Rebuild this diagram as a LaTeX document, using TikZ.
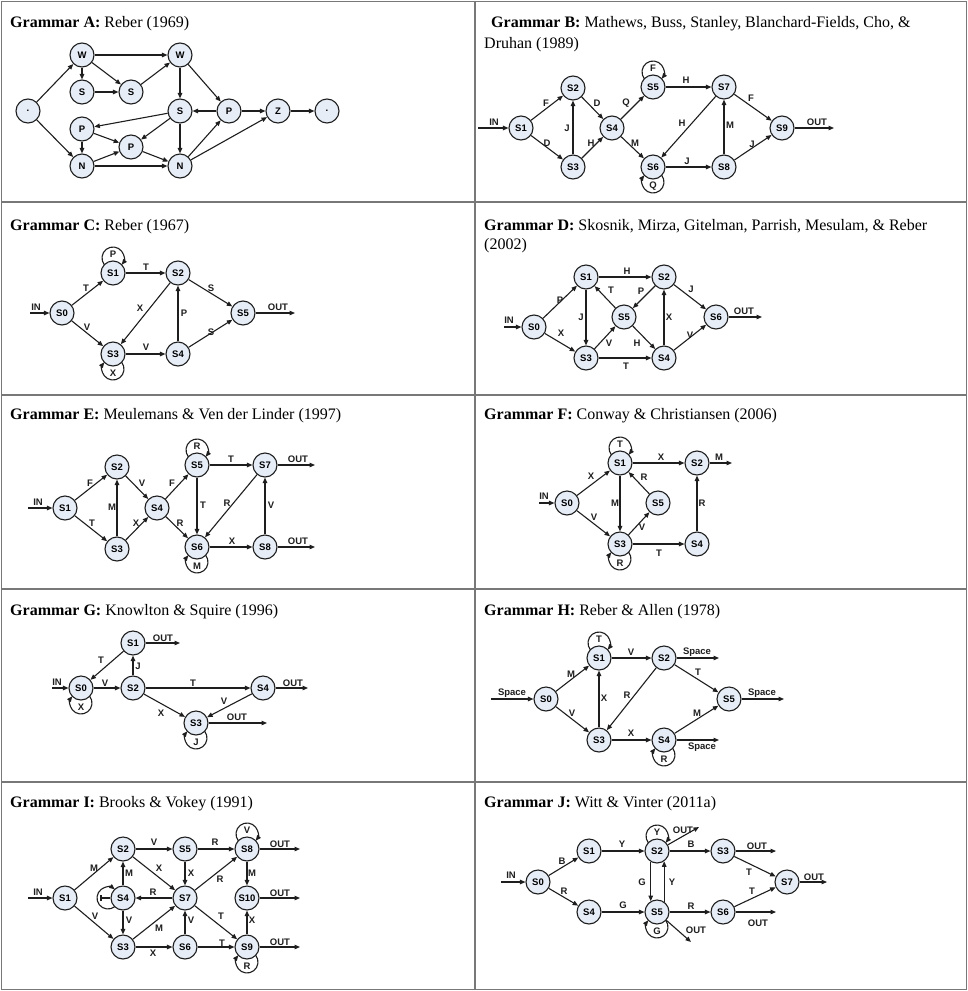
\documentclass[tikz,border=0pt]{standalone}
\usepackage{fontspec}
\setmainfont{Liberation Serif}
\newfontfamily\arialfam{Liberation Sans}
\usetikzlibrary{arrows.meta,calc}
\definecolor{nodefill}{RGB}{230,237,247}
\definecolor{ink}{RGB}{30,30,30}
\definecolor{gridc}{RGB}{120,120,120}
\newcommand\labfont{\arialfam\bfseries\fontsize{9.5}{11}\selectfont}
\newcommand\ttlfont{\fontsize{16}{19}\selectfont}
\tikzset{
 st/.style={circle, draw=ink, fill=nodefill, line width=1.1pt, minimum size=24pt, inner sep=0pt, font=\labfont},
 arr/.style={draw=ink, line width=1.1pt, -{Triangle[length=5.5pt,width=4.5pt]}},
 lb/.style={font=\labfont, inner sep=0pt, text=ink},
 ttlnode/.style={anchor=base west, inner sep=0pt, font=\ttlfont},
 gridline/.style={draw=gridc, line width=1.6pt},
}
\newcommand\looptop[2]{\draw[arr] ($(#1)+(-8.69,8.27)$) arc[start angle=217.8, end angle=-37.8, radius=11] node[lb] at ($(#1)+(0,19)$) {#2};}
\newcommand\loopbot[2]{\draw[arr] ($(#1)+(8.69,-8.27)$) arc[start angle=37.8, end angle=-217.8, radius=11] node[lb] at ($(#1)+(0,-19)$) {#2};}
\begin{document}
\begin{tikzpicture}[x=1pt,y=1pt]
\useasboundingbox (0,0) rectangle (968,-991);
% grid
\draw[gridline] (1.5,-1.5) rectangle (966.5,-989.5);
\draw[gridline] (475,-1.5) -- (475,-989.5);
\foreach \yy in {202,395,589,782} \draw[gridline] (1.5,-\yy) -- (966.5,-\yy);

% titles
\node[ttlnode] (tA) at (10,-27) {\textbf{Grammar A:} Reber (1969)};
\node[ttlnode] (tB) at (491,-27) {\textbf{Grammar B:} Mathews, Buss, Stanley, Blanchard-Fields, Cho, \&};
\node[ttlnode] (tB2) at (484,-48) {Druhan (1989)};
\node[ttlnode] (tC) at (10,-230) {\textbf{Grammar C:} Reber (1967)};
\node[ttlnode] (tD) at (484,-230) {\textbf{Grammar D:} Skosnik, Mirza, Gitelman, Parrish, Mesulam, \& Reber};
\node[ttlnode] (tD2) at (484,-249) {(2002)};
\node[ttlnode] (tE) at (10,-419) {\textbf{Grammar E:} Meulemans \& Ven der Linder (1997)};
\node[ttlnode] (tF) at (484,-419) {\textbf{Grammar F:} Conway \& Christiansen (2006)};
\node[ttlnode] (tG) at (10,-615.5) {\textbf{Grammar G:} Knowlton \& Squire (1996)};
\node[ttlnode] (tH) at (484,-615.5) {\textbf{Grammar H:} Reber \& Allen (1978)};
\node[ttlnode] (tI) at (10,-807) {\textbf{Grammar I:} Brooks \& Vokey (1991)};
\node[ttlnode] (tJ) at (484,-807) {\textbf{Grammar J:} Witt \& Vinter (2011a)};

% ---------------- Grammar A
\node[st] (aS0) at (28,-111) {.};
\node[st] (aW1) at (82,-55) {W};
\node[st] (aS1) at (82,-92) {S};
\node[st] (aS2) at (131,-92) {S};
\node[st] (aW2) at (180,-55) {W};
\node[st] (aS3) at (180,-111) {S};
\node[st] (aP1) at (229,-111) {P};
\node[st] (aZ) at (278,-111) {Z};
\node[st] (aE) at (327,-111) {.};
\node[st] (aP2) at (82,-129) {P};
\node[st] (aP3) at (131,-147) {P};
\node[st] (aN1) at (82,-166) {N};
\node[st] (aN2) at (180,-166) {N};
\foreach \p/\q in {aS0/aW1,aS0/aN1,aW1/aW2,aW1/aS1,aW1/aS2,aS1/aS2,aS2/aW2,aW2/aS3,aW2/aP1,aP1/aS3,aP1/aZ,aZ/aE,aS3/aP2,aS3/aP3,aS3/aN2,aP2/aN1,aP2/aP3,aN1/aP3,aN1/aN2,aP3/aN2,aN2/aP1,aN2/aZ}
  \draw[arr] (\p) -- (\q);

% ---------------- Grammar B
\node[st] (bS1) at (521,-128) {S1};
\node[st] (bS2) at (573,-88) {S2};
\node[st] (bS3) at (573,-167) {S3};
\node[st] (bS4) at (612,-128) {S4};
\node[st] (bS5) at (653,-87) {S5};
\node[st] (bS6) at (653,-167) {S6};
\node[st] (bS7) at (724,-87) {S7};
\node[st] (bS8) at (724,-167) {S8};
\node[st] (bS9) at (782,-128) {S9};
\coordinate (bIn) at (478,-128);
\coordinate (bOut) at (834,-128);
\draw[arr] (bIn) -- (bS1) node[lb] at (494,-122) {IN};
\draw[arr] (bS9) -- (bOut) node[lb] at (817,-122) {OUT};
\draw[arr] (bS1) -- (bS2) node[lb] at (546,-103) {F};
\draw[arr] (bS1) -- (bS3) node[lb] at (547,-143) {D};
\draw[arr] (bS3) -- (bS2) node[lb] at (567,-128) {J};
\draw[arr] (bS2) -- (bS4) node[lb] at (597,-103) {D};
\draw[arr] (bS3) -- (bS4) node[lb] at (591,-143) {H};
\draw[arr] (bS4) -- (bS5) node[lb] at (626,-103) {Q};
\draw[arr] (bS4) -- (bS6) node[lb] at (635,-143) {M};
\looptop{bS5}{F}
\loopbot{bS6}{Q}
\draw[arr] (bS5) -- (bS7) node[lb] at (686,-80) {H};
\draw[arr] (bS7) -- (bS6) node[lb] at (682,-123) {H};
\draw[arr] (bS6) -- (bS8) node[lb] at (687,-161) {J};
\draw[arr] (bS8) -- (bS7) node[lb] at (730,-125) {M};
\draw[arr] (bS7) -- (bS9) node[lb] at (751,-98) {F};
\draw[arr] (bS8) -- (bS9) node[lb] at (752,-144) {J};

% ---------------- Grammar C
\node[st] (cS0) at (62,-313) {S0};
\node[st] (cS1) at (113,-273) {S1};
\node[st] (cS2) at (178,-273) {S2};
\node[st] (cS3) at (113,-354) {S3};
\node[st] (cS4) at (178,-354) {S4};
\node[st] (cS5) at (243,-313) {S5};
\coordinate (cIn) at (30,-313);
\coordinate (cOut) at (295,-313);
\draw[arr] (cIn) -- (cS0) node[lb] at (36,-307) {IN};
\draw[arr] (cS5) -- (cOut) node[lb] at (278,-307) {OUT};
\draw[arr] (cS0) -- (cS1) node[lb] at (86,-288) {T};
\draw[arr] (cS0) -- (cS3) node[lb] at (87,-327) {V};
\looptop{cS1}{P}
\draw[arr] (cS1) -- (cS2) node[lb] at (146,-267) {T};
\draw[arr] (cS2) -- (cS3) node[lb] at (140,-308) {X};
\draw[arr] (cS4) -- (cS2) node[lb] at (184,-313) {P};
\draw[arr] (cS3) -- (cS4) node[lb] at (146,-347) {V};
\loopbot{cS3}{X}
\draw[arr] (cS2) -- (cS5) node[lb] at (211,-288) {S};
\draw[arr] (cS4) -- (cS5) node[lb] at (211,-332) {S};

% ---------------- Grammar D
\node[st] (dS0) at (534,-327) {S0};
\node[st] (dS1) at (586,-277) {S1};
\node[st] (dS2) at (664,-277) {S2};
\node[st] (dS3) at (586,-358) {S3};
\node[st] (dS4) at (664,-358) {S4};
\node[st] (dS5) at (624,-317) {S5};
\node[st] (dS6) at (716,-317) {S6};
\coordinate (dIn) at (504,-327);
\coordinate (dOut) at (762,-317);
\draw[arr] (dIn) -- (dS0) node[lb] at (509,-320) {IN};
\draw[arr] (dS6) -- (dOut) node[lb] at (744,-311) {OUT};
\draw[arr] (dS0) -- (dS1) node[lb] at (560,-300) {P};
\draw[arr] (dS0) -- (dS3) node[lb] at (561,-333) {X};
\draw[arr] (dS1) -- (dS2) node[lb] at (627,-271) {H};
\draw[arr] (dS1) -- (dS3) node[lb] at (581,-317) {J};
\draw[arr] (dS5) -- (dS1) node[lb] at (611,-290) {T};
\draw[arr] (dS2) -- (dS5) node[lb] at (641,-291) {P};
\draw[arr] (dS3) -- (dS5) node[lb] at (609,-343) {V};
\draw[arr] (dS5) -- (dS4) node[lb] at (637,-343) {H};
\draw[arr] (dS3) -- (dS4) node[lb] at (626,-366) {T};
\draw[arr] (dS4) -- (dS2) node[lb] at (669,-317) {X};
\draw[arr] (dS2) -- (dS6) node[lb] at (691,-289) {J};
\draw[arr] (dS4) -- (dS6) node[lb] at (690,-335) {V};

% ---------------- Grammar E
\node[st] (eS1) at (65,-508) {S1};
\node[st] (eS2) at (117,-467) {S2};
\node[st] (eS3) at (117,-549) {S3};
\node[st] (eS4) at (157,-508) {S4};
\node[st] (eS5) at (197,-465) {S5};
\node[st] (eS6) at (197,-547) {S6};
\node[st] (eS7) at (265,-465) {S7};
\node[st] (eS8) at (265,-547) {S8};
\coordinate (eIn) at (28,-508);
\coordinate (eOut1) at (315,-465);
\coordinate (eOut2) at (315,-547);
\draw[arr] (eIn) -- (eS1) node[lb] at (38,-502) {IN};
\draw[arr] (eS7) -- (eOut1) node[lb] at (298,-459) {OUT};
\draw[arr] (eS8) -- (eOut2) node[lb] at (298,-541) {OUT};
\draw[arr] (eS1) -- (eS2) node[lb] at (90,-483) {F};
\draw[arr] (eS1) -- (eS3) node[lb] at (92,-523) {T};
\draw[arr] (eS3) -- (eS2) node[lb] at (112,-507) {M};
\draw[arr] (eS2) -- (eS4) node[lb] at (142,-483) {V};
\draw[arr] (eS3) -- (eS4) node[lb] at (136,-523) {X};
\draw[arr] (eS4) -- (eS5) node[lb] at (172,-483) {F};
\draw[arr] (eS4) -- (eS6) node[lb] at (180,-523) {R};
\looptop{eS5}{R}
\draw[arr] (eS5) -- (eS7) node[lb] at (231,-459) {T};
\draw[arr] (eS5) -- (eS6) node[lb] at (203,-505) {T};
\draw[arr] (eS7) -- (eS6) node[lb] at (227,-503) {R};
\draw[arr] (eS6) -- (eS8) node[lb] at (232,-541) {X};
\draw[arr] (eS8) -- (eS7) node[lb] at (271,-505) {V};
\loopbot{eS6}{M}

% ---------------- Grammar F
\node[st] (fS0) at (567,-503) {S0};
\node[st] (fS1) at (620,-463) {S1};
\node[st] (fS2) at (697,-463) {S2};
\node[st] (fS3) at (620,-544) {S3};
\node[st] (fS4) at (697,-544) {S4};
\node[st] (fS5) at (658,-503) {S5};
\coordinate (fIn) at (539,-503);
\coordinate (fOut) at (732,-463);
\draw[arr] (fIn) -- (fS0) node[lb] at (544,-496) {IN};
\draw[arr] (fS2) -- (fOut) node[lb] at (719,-457) {M};
\draw[arr] (fS0) -- (fS1) node[lb] at (591,-476) {X};
\draw[arr] (fS0) -- (fS3) node[lb] at (594,-517) {V};
\looptop{fS1}{T}
\draw[arr] (fS1) -- (fS2) node[lb] at (661,-457) {X};
\draw[arr] (fS1) -- (fS3) node[lb] at (615,-503) {M};
\draw[arr] (fS5) -- (fS1) node[lb] at (644,-477) {R};
\draw[arr] (fS3) -- (fS5) node[lb] at (642,-527) {V};
\draw[arr] (fS3) -- (fS4) node[lb] at (659,-553) {T};
\draw[arr] (fS4) -- (fS2) node[lb] at (702,-503) {R};
\loopbot{fS3}{R}

% ---------------- Grammar G
\node[st] (gS0) at (81,-688) {S0};
\node[st] (gS1) at (133,-643) {S1};
\node[st] (gS2) at (133,-688) {S2};
\node[st] (gS3) at (196,-723) {S3};
\node[st] (gS4) at (263,-688) {S4};
\coordinate (gIn) at (52,-688);
\coordinate (gOut1) at (180,-643);
\coordinate (gOut4) at (308,-688);
\coordinate (gOut3) at (267,-723);
\draw[arr] (gIn) -- (gS0) node[lb] at (57,-682) {IN};
\draw[arr] (gS1) -- (gOut1) node[lb] at (163,-638) {OUT};
\draw[arr] (gS4) -- (gOut4) node[lb] at (293,-683) {OUT};
\draw[arr] (gS3) -- (gOut3) node[lb] at (237,-717) {OUT};
\draw[arr] (gS1) -- (gS0) node[lb] at (101,-660) {T};
\draw[arr] (gS2) -- (gS1) node[lb] at (138,-666) {J};
\draw[arr] (gS0) -- (gS2) node[lb] at (105,-683) {V};
\draw[arr] (gS2) -- (gS4) node[lb] at (193,-683) {T};
\draw[arr] (gS2) -- (gS3) node[lb] at (161,-713) {X};
\draw[arr] (gS4) -- (gS3) node[lb] at (224,-701) {V};
\loopbot{gS0}{X}
\loopbot{gS3}{J}

% ---------------- Grammar H
\node[st] (hS0) at (546,-699) {S0};
\node[st] (hS1) at (599,-658) {S1};
\node[st] (hS2) at (664,-658) {S2};
\node[st] (hS3) at (599,-740) {S3};
\node[st] (hS4) at (664,-740) {S4};
\node[st] (hS5) at (729,-699) {S5};
\coordinate (hIn) at (491,-699);
\coordinate (hOut2) at (719,-658);
\coordinate (hOut5) at (784,-699);
\coordinate (hOut4) at (719,-740);
\draw[arr] (hIn) -- (hS0) node[lb] at (512,-693) {Space};
\draw[arr] (hS2) -- (hOut2) node[lb] at (697,-652) {Space};
\draw[arr] (hS5) -- (hOut5) node[lb] at (762,-693) {Space};
\draw[arr] (hS4) -- (hOut4) node[lb] at (702,-747) {Space};
\draw[arr] (hS0) -- (hS1) node[lb] at (571,-674) {M};
\draw[arr] (hS0) -- (hS3) node[lb] at (572,-713) {V};
\looptop{hS1}{T}
\draw[arr] (hS1) -- (hS2) node[lb] at (631,-652) {V};
\draw[arr] (hS3) -- (hS1) node[lb] at (604,-698) {X};
\draw[arr] (hS2) -- (hS3) node[lb] at (627,-695) {R};
\draw[arr] (hS2) -- (hS5) node[lb] at (698,-672) {T};
\draw[arr] (hS3) -- (hS4) node[lb] at (631,-733) {X};
\draw[arr] (hS4) -- (hS5) node[lb] at (697,-713) {M};
\loopbot{hS4}{R}

% ---------------- Grammar I
\node[st] (iS1) at (65,-898) {S1};
\node[st] (iS2) at (123,-849) {S2};
\node[st] (iS3) at (123,-947) {S3};
\node[st] (iS4) at (123,-898) {S4};
\node[st] (iS5) at (185,-849) {S5};
\node[st] (iS6) at (185,-947) {S6};
\node[st] (iS7) at (185,-898) {S7};
\node[st] (iS8) at (247,-849) {S8};
\node[st] (iS9) at (247,-947) {S9};
\node[st] (iS10) at (247,-898) {S10};
\coordinate (iIn) at (28,-898);
\coordinate (iOut8) at (300,-849);
\coordinate (iOut10) at (300,-898);
\coordinate (iOut9) at (300,-947);
\draw[arr] (iIn) -- (iS1) node[lb] at (38,-892) {IN};
\draw[arr] (iS8) -- (iOut8) node[lb] at (280,-844) {OUT};
\draw[arr] (iS10) -- (iOut10) node[lb] at (280,-893) {OUT};
\draw[arr] (iS9) -- (iOut9) node[lb] at (280,-942) {OUT};
\draw[arr] (iS1) -- (iS2) node[lb] at (94,-868) {M};
\draw[arr] (iS1) -- (iS3) node[lb] at (95,-916) {V};
\draw[arr] (iS2) -- (iS5) node[lb] at (154,-842) {V};
\draw[arr] (iS2) -- (iS7) node[lb] at (159,-868) {X};
\draw[arr] (iS4) -- (iS2) node[lb] at (129,-873) {M};
\draw[arr] (iS4) -- (iS3) node[lb] at (129,-920) {V};
\draw[arr] (iS7) -- (iS4) node[lb] at (153,-892) {R};
\draw[arr] (iS5) -- (iS7) node[lb] at (191,-873) {X};
\draw[arr] (iS3) -- (iS7) node[lb] at (159,-928) {M};
\draw[arr] (iS6) -- (iS7) node[lb] at (191,-920) {V};
\draw[arr] (iS3) -- (iS6) node[lb] at (153,-953) {X};
\draw[arr] (iS5) -- (iS8) node[lb] at (215,-842) {R};
\draw[arr] (iS7) -- (iS8) node[lb] at (220,-879) {R};
\draw[arr] (iS7) -- (iS9) node[lb] at (221,-916) {T};
\draw[arr] (iS6) -- (iS9) node[lb] at (222,-943) {T};
\draw[arr] (iS8) -- (iS10) node[lb] at (252,-873) {M};
\draw[arr] (iS9) -- (iS10) node[lb] at (252,-920) {X};
\looptop{iS8}{V}
\loopbot{iS9}{R}
\draw[arr] ($(iS4)+(-8.27,-8.69)$) arc[start angle=-52.2, end angle=-307.8, radius=11];
\draw[draw=ink, line width=1.1pt, {Bar[width=6pt,line width=1.1pt]}-] ($(iS4.west)+(-10,0)$) -- (iS4.west);

% ---------------- Grammar J
\node[st] (jS0) at (538,-882) {S0};
\node[st] (jS1) at (589,-851) {S1};
\node[st] (jS2) at (657,-851) {S2};
\node[st] (jS3) at (723,-851) {S3};
\node[st] (jS4) at (589,-912) {S4};
\node[st] (jS5) at (657,-912) {S5};
\node[st] (jS6) at (723,-912) {S6};
\node[st] (jS7) at (787,-882) {S7};
\coordinate (jIn) at (501,-882);
\coordinate (jOut3) at (776,-851);
\coordinate (jOut7) at (827,-882);
\coordinate (jOut6) at (776,-912);
\coordinate (jOut2) at (699,-827);
\coordinate (jOut5) at (691,-942);
\looptop{jS2}{Y}
\loopbot{jS5}{G}
\draw[arr] (jIn) -- (jS0) node[lb] at (511,-875) {IN};
\draw[arr] (jS3) -- (jOut3) node[lb] at (757,-846) {OUT};
\draw[arr] (jS7) -- (jOut7) node[lb] at (814,-877) {OUT};
\draw[arr] (jS6) -- (jOut6) node[lb] at (758,-923) {OUT};
\draw[arr] (jS2) -- (jOut2) node[lb] at (683,-830) {OUT};
\draw[arr] (jS5) -- (jOut5) node[lb] at (696,-930) {OUT};
\draw[arr] (jS0) -- (jS1) node[lb] at (562,-861) {B};
\draw[arr] (jS0) -- (jS4) node[lb] at (564,-891) {R};
\draw[arr] (jS1) -- (jS2) node[lb] at (622,-844) {Y};
\draw[arr] (jS2) -- (jS3) node[lb] at (691,-844) {B};
\draw[arr] (jS2.240) -- (jS5.120) node[lb] at (642,-882) {G};
\draw[arr] (jS5.55) -- (jS2.-55) node[lb] at (672,-882) {Y};
\draw[arr] (jS4) -- (jS5) node[lb] at (623,-905) {G};
\draw[arr] (jS5) -- (jS6) node[lb] at (691,-906) {R};
\draw[arr] (jS3) -- (jS7) node[lb] at (749,-872) {T};
\draw[arr] (jS6) -- (jS7) node[lb] at (752,-891) {T};
\end{tikzpicture}
\end{document}
